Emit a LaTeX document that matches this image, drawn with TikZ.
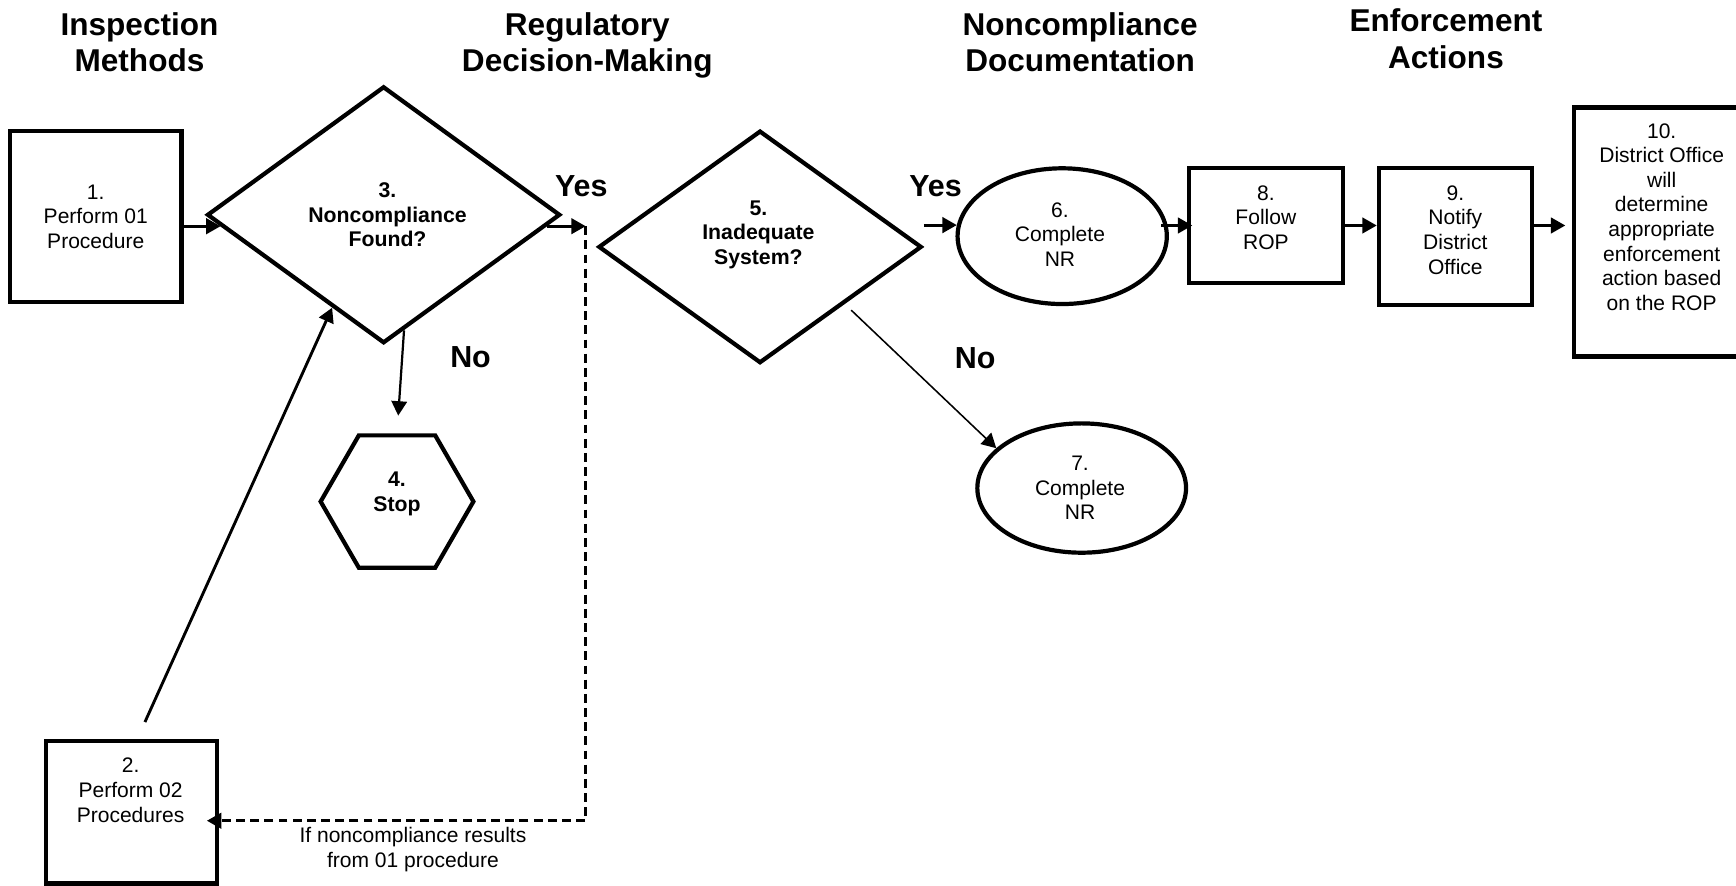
\documentclass[tikz,border=0pt]{standalone}
\usepackage{fontspec}
\setmainfont{Liberation Sans}
\usetikzlibrary{arrows.meta,shapes.geometric}
\begin{document}
\tikzset{
  shp/.style={draw=black, line width=1.9pt, fill=white, inner sep=0pt},
  boxshape/.style={shp, rectangle},
  txt/.style={font=\fontsize{9.5}{11.1}\selectfont, align=center, inner sep=0pt},
  btxt/.style={font=\fontsize{9.6}{11.1}\selectfont\bfseries, align=center, inner sep=0pt},
  hdr/.style={font=\fontsize{14.25}{16.5}\selectfont\bfseries, align=center, inner sep=0pt},
  yn/.style={font=\fontsize{13.75}{16}\selectfont\bfseries, inner sep=0pt},
  conn/.style={line width=1.3pt, -{Triangle[length=6.5pt,width=7pt]}},
  dconn/.style={conn, dash pattern=on 4pt off 2.4pt},
  thinconn/.style={conn, line width=0.7pt},
}
\begin{tikzpicture}[x=0.5pt, y=-0.5pt]
\useasboundingbox (0,0) rectangle (1568,800);
\fill[white] (0,0) rectangle (1568,800);
\clip (0,0) rectangle (1568,800);

% headers
\node[hdr] (h1) at (126,38) {Inspection\\Methods};
\node[hdr] (h2) at (530.5,40.8) {Regulatory\\Decision-Making};
\node[hdr] (h3) at (975.6,38.1) {Noncompliance\\Documentation};
\node[hdr] (h4) at (1306,35.1) {Enforcement\\Actions};

% shapes
\node[boxshape, minimum width=77.5pt, minimum height=77.5pt,
  label={[txt, name=b1t]center:{1.\\Perform 01\\Procedure}}] (b1) at (86.5,195.5) {};
\node[boxshape, minimum width=77.25pt, minimum height=64.5pt,
  label={[txt, name=b2t, yshift=9.9pt, xshift=-0.4pt]center:{2.\\Perform 02\\Procedures}}] (b2) at (118.75,733.5) {};
\node[shp, diamond, minimum width=159.5pt, minimum height=116pt,
  label={[btxt, name=d3t, xshift=1.75pt]center:{3.\\Noncompliance\\Found?}}] (d3) at (346.5,194) {};
\node[shp, regular polygon, regular polygon sides=6, minimum size=69pt,
  label={[btxt, name=h4t, yshift=3.5pt]center:{4.\\Stop}}] (hx) at (358.6,453) {};
\node[shp, diamond, minimum width=146pt, minimum height=105pt,
  label={[btxt, name=d5t, yshift=5.5pt, xshift=-0.75pt]center:{5.\\Inadequate\\System?}}] (d5) at (686.5,223) {};
\node[shp, ellipse, minimum width=94.5pt, minimum height=61.3pt,
  label={[txt, name=e6t, yshift=0.75pt, xshift=-1pt]center:{6.\\Complete\\NR}}] (e6) at (959.4,213.3) {};
\node[shp, ellipse, minimum width=94.25pt, minimum height=58.4pt,
  label={[txt, name=e7t, xshift=-0.75pt]center:{7.\\Complete\\NR}}] (e7) at (977,440.8) {};
\node[boxshape, minimum width=69.35pt, minimum height=51.65pt,
  label={[txt, name=b8t, yshift=3.6pt]center:{8.\\Follow\\ROP}}] (b8) at (1143.35,203.65) {};
\node[boxshape, minimum width=69.1pt, minimum height=61.75pt,
  label={[txt, name=b9t, yshift=3pt]center:{9.\\Notify\\District\\Office}}] (b9) at (1314.5,213.75) {};
\node[boxshape, minimum width=79.15pt, minimum height=112.5pt,
  label={[txt, name=b10t, yshift=6.75pt]center:{10.\\District Office\\will\\determine\\appropriate\\enforcement\\action based\\on the ROP}}] (b10) at (1500.85,209.5) {};

% labels
\node[yn] (yes1) at (525,168) {Yes};
\node[yn] (yes2) at (845,168) {Yes};
\node[yn] (no1) at (425,322.5) {No};
\node[yn] (no2) at (880.7,323.5) {No};
\node[txt] (iflbl) at (373,767.5) {If noncompliance results\\from 01 procedure};

% connectors
\coordinate (Jx) at (529,0);
\coordinate (J) at (d3.356.6 -| Jx);
\coordinate (K) at (529,741.3);

\draw[conn] (b1.east |- d3.184) -- (d3.184);
\draw[conn] (d3.356.6) -- (J);
\draw[dconn, shorten >=-5.5pt] (J) -- (K) -- (b2.east |- K);
\draw[conn, line width=1pt, shorten >=8pt] (d3.280.8) -- (hx.north);
\draw[conn, shorten <=8.2pt] ([xshift=2.7pt]b2.north) -- (d3.241.3);
\draw[conn] (d5.east |- e6.174.3) -- (e6.174.3);
\draw[conn, shorten <=-3.5pt, shorten >=-2.4pt] (e6.east |- b8.west) -- (b8.west);
\draw[conn] (b8.east) -- (b9.west |- b8.east);
\draw[conn, shorten >=3pt] (b9.east |- b8.east) -- (b10.west |- b8.east);
\draw[thinconn, shorten <=4pt] (d5.326.5) -- (e7.155.4);
\end{tikzpicture}
\end{document}
